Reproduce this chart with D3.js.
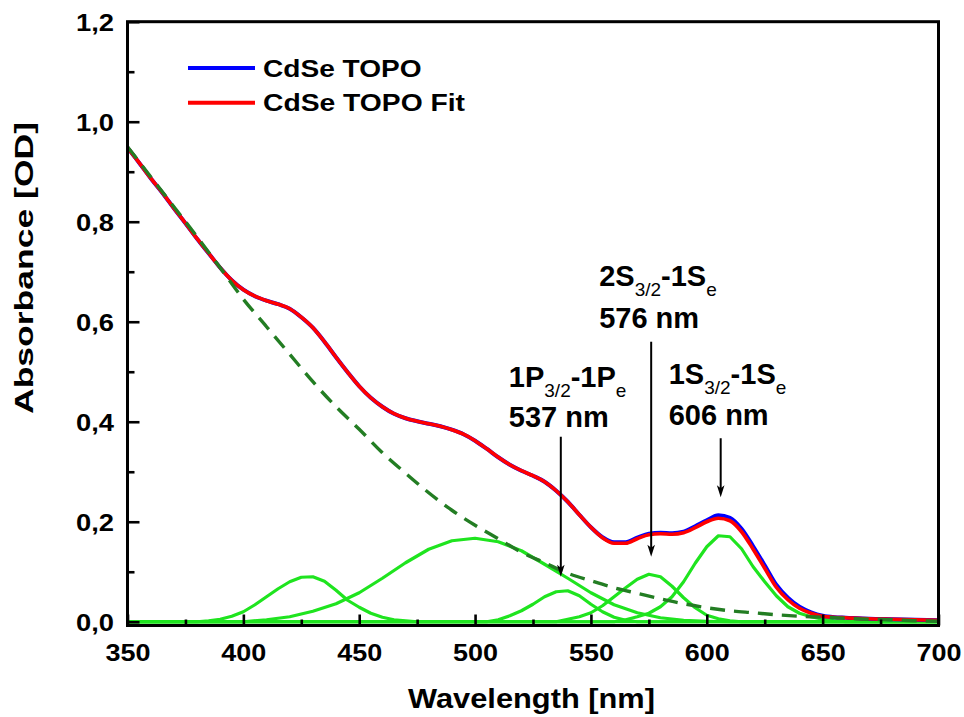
<!DOCTYPE html>
<html>
<head>
<meta charset="utf-8">
<script src="https://cdn.jsdelivr.net/npm/d3@7/dist/d3.min.js"></script>
<style>
  html, body { margin: 0; padding: 0; background: #fff; }
  svg { display: block; }
  text { font-family: "Liberation Sans", Arial, sans-serif; font-weight: bold; fill: #000; }
</style>
</head>
<body>
<svg id="chart" width="964" height="717"></svg>
<script>
// Measured absorption spectrum of CdSe/TOPO nanocrystals (nm, OD)
const wavelengths = [350,355,360,365,370,375,380,385,390,395,400,405,410,415,420,425,430,435,440,445,450,455,460,465,470,475,480,485,490,495,500,505,510,515,520,525,530,535,540,545,550,555,560,565,570,575,580,585,590,595,600,605,610,615,620,625,630,635,640,645,650,655,660,670,680,690,700];
const absData    = [0.948,0.918,0.887,0.858,0.827,0.797,0.766,0.737,0.708,0.683,0.664,0.651,0.642,0.635,0.626,0.609,0.588,0.560,0.529,0.499,0.471,0.448,0.430,0.416,0.407,0.401,0.396,0.391,0.384,0.375,0.362,0.346,0.329,0.314,0.302,0.292,0.280,0.262,0.240,0.214,0.189,0.169,0.159,0.159,0.168,0.176,0.178,0.177,0.180,0.191,0.203,0.213,0.208,0.186,0.151,0.113,0.074,0.048,0.030,0.019,0.012,0.009,0.008,0.006,0.005,0.004,0.003];
const absFit     = [0.948,0.918,0.887,0.858,0.827,0.797,0.766,0.737,0.708,0.683,0.664,0.651,0.642,0.635,0.626,0.609,0.588,0.560,0.529,0.499,0.471,0.448,0.430,0.416,0.407,0.401,0.396,0.391,0.384,0.375,0.362,0.346,0.329,0.314,0.302,0.292,0.280,0.262,0.240,0.214,0.189,0.168,0.157,0.157,0.166,0.174,0.176,0.175,0.178,0.188,0.200,0.207,0.202,0.180,0.145,0.107,0.069,0.044,0.027,0.017,0.011,0.009,0.008,0.006,0.005,0.004,0.003];

// Scattering background (dashed)
const bgWl  = [350,360,370,380,390,400,410,420,430,440,450,460,470,480,490,500,510,520,530,540,550,560,570,580,590,600,610,620,630,640,650,660,670,680,690,700];
const bgAbs = [0.950,0.890,0.830,0.770,0.708,0.645,0.590,0.535,0.480,0.430,0.385,0.338,0.297,0.258,0.223,0.193,0.166,0.139,0.118,0.097,0.082,0.068,0.057,0.046,0.036,0.028,0.022,0.018,0.014,0.011,0.009,0.007,0.005,0.004,0.002,0.001];

// Gaussian fit components
const g1Wl  = [350,380,385,390,395,400,405,410,415,420,425,430,435,440,445,450,455,460,465,470,475,700];
const g1Abs = [0,0,0.002,0.005,0.011,0.020,0.034,0.050,0.066,0.080,0.089,0.090,0.081,0.063,0.043,0.029,0.017,0.009,0.004,0.002,0,0];
const g2Wl  = [350,400,410,420,430,440,450,460,470,480,490,500,510,520,530,540,550,560,570,580,590,600,610,700];
const g2Abs = [0,0,0.004,0.010,0.021,0.036,0.058,0.087,0.118,0.145,0.162,0.167,0.160,0.142,0.115,0.087,0.058,0.034,0.018,0.008,0.003,0.001,0,0];
const g3Wl  = [350,505,510,515,520,525,530,535,540,545,550,555,560,565,570,700];
const g3Abs = [0,0,0.004,0.012,0.022,0.035,0.050,0.060,0.062,0.052,0.035,0.020,0.009,0.003,0,0];
const g4Wl  = [350,535,540,545,550,555,560,565,570,575,580,585,590,595,600,605,610,615,700];
const g4Abs = [0,0,0.005,0.010,0.018,0.032,0.050,0.068,0.085,0.095,0.090,0.071,0.048,0.028,0.013,0.006,0.002,0,0];
const g5Wl  = [350,560,565,570,575,580,585,590,595,600,605,610,615,620,625,630,635,640,645,650,655,660,700];
const g5Abs = [0,0,0.004,0.010,0.017,0.030,0.050,0.080,0.117,0.150,0.172,0.170,0.146,0.110,0.080,0.052,0.030,0.017,0.010,0.005,0.002,0,0];

// Transition annotations
const peakNames = [["1P","3/2","-1P","e"],["2S","3/2","-1S","e"],["1S","3/2","-1S","e"]];
const peakWl    = [537, 576, 606];
const arrowFrom = [0.370, 0.560, 0.367];
const arrowTo   = [0.090, 0.130, 0.249];

// Axis ticks
const xMajor = [350,400,450,500,550,600,650,700];
const xMinor = [375,425,475,525,575,625,675];
const yMajor = [0,0.2,0.4,0.6,0.8,1.0,1.2];
const yMinor = [0.1,0.3,0.5,0.7,0.9,1.1];

const legendNames = ["CdSe TOPO", "CdSe TOPO Fit"];

const svg = d3.select("#chart");
const L = 127.5, R = 938.5, T = 21.7, B = 625.5;

const x = d3.scaleLinear().domain([350, 700]).range([L, R]);
const y = d3.scaleLinear().domain([-0.0075, 1.2]).range([B, T]);

function stretch(sel, w) {
  sel.attr("textLength", w).attr("lengthAdjust", "spacingAndGlyphs");
}

svg.append("defs").append("clipPath").attr("id", "plot")
  .append("rect").attr("x", L).attr("y", T).attr("width", R - L).attr("height", B - T);

const plot = svg.append("g").attr("clip-path", "url(#plot)");

const lineLin = d3.line().x(d => x(d[0])).y(d => y(d[1]));
const lineSmooth = d3.line().x(d => x(d[0])).y(d => y(d[1])).curve(d3.curveMonotoneX);
const zip = (a, b) => a.map((v, i) => [v, b[i]]);

// Fit components
[[g1Wl,g1Abs],[g2Wl,g2Abs],[g3Wl,g3Abs],[g4Wl,g4Abs],[g5Wl,g5Abs]].forEach(([w, a]) => {
  plot.append("path").attr("d", lineLin(zip(w, a)))
    .attr("fill", "none").attr("stroke", "#1fe41f").attr("stroke-width", 3.2)
    .attr("stroke-linejoin", "round");
});

// Measured spectrum and total fit
plot.append("path").attr("d", lineSmooth(zip(wavelengths, absData)))
  .attr("fill", "none").attr("stroke", "#0000ff").attr("stroke-width", 4);
plot.append("path").attr("d", lineSmooth(zip(wavelengths, absFit)))
  .attr("fill", "none").attr("stroke", "#ff0000").attr("stroke-width", 3.6);

// Background
plot.append("path").attr("d", lineSmooth(zip(bgWl, bgAbs)))
  .attr("fill", "none").attr("stroke", "#237d23").attr("stroke-width", 3.4)
  .attr("stroke-dasharray", "15,9");

// Axes (ticks point inward)
const axX = svg.append("g").attr("transform", `translate(0,${B})`);
axX.call(d3.axisBottom(x).tickValues(xMajor).tickSize(-11).tickPadding(18).tickFormat(d3.format("d")));
axX.append("g").call(d3.axisBottom(x).tickValues(xMinor).tickSize(-6).tickFormat(""));
const axY = svg.append("g").attr("transform", `translate(${L},0)`);
axY.call(d3.axisLeft(y).tickValues(yMajor).tickSize(-12).tickPadding(13.5).tickFormat(d => d3.format(".1f")(d).replace(".", ",")));
axY.append("g").call(d3.axisLeft(y).tickValues(yMinor).tickSize(-7).tickFormat(""));
svg.selectAll(".domain").remove();
svg.selectAll(".tick line").attr("stroke", "#000").attr("stroke-width", 2.6);
axX.selectAll(".tick text").attr("font-size", 24).attr("font-weight", "bold")
  .attr("font-family", "Liberation Sans, Arial, sans-serif").call(stretch, 45);
axY.selectAll(".tick text").attr("font-size", 24).attr("font-weight", "bold")
  .attr("font-family", "Liberation Sans, Arial, sans-serif").attr("dy", "0.35em").call(stretch, 38);

// Frame
svg.append("rect").attr("x", L).attr("y", T).attr("width", R - L).attr("height", B - T)
  .attr("fill", "none").attr("stroke", "#000").attr("stroke-width", 3);

// Axis titles
svg.append("text").attr("x", 531.5).attr("y", 708).attr("text-anchor", "middle")
  .attr("font-size", 28).text("Wavelength [nm]").call(stretch, 247);
svg.append("text").attr("transform", "translate(33,268) rotate(-90)").attr("text-anchor", "middle")
  .attr("font-size", 25).text("Absorbance [OD]").call(stretch, 292);

// Legend
const legColors = ["#0000ff", "#ff0000"];
const legW = [158.7, 202];
legendNames.forEach((name, i) => {
  const yy = 68 + i * 34.7;
  svg.append("line").attr("x1", 188).attr("x2", 255).attr("y1", yy).attr("y2", yy)
    .attr("stroke", legColors[i]).attr("stroke-width", 4);
  svg.append("text").attr("x", 263).attr("y", yy + 8.7).attr("font-size", 24)
    .text(name).call(stretch, legW[i]);
});

// Peak annotations with arrows
const firstBase = [386.5, 286, 384];
const secondBase = [426.5, 328, 425];
peakWl.forEach((wl, i) => {
  const ax = x(wl);
  const left = ax - 52;
  const t = svg.append("text").attr("x", left).attr("y", firstBase[i]).attr("font-size", 29);
  const p = peakNames[i];
  t.append("tspan").text(p[0]);
  t.append("tspan").attr("dy", 10).attr("font-size", 19).attr("font-weight", "normal").text(p[1]);
  t.append("tspan").attr("dy", -10).text(p[2]);
  t.append("tspan").attr("dy", 10).attr("font-size", 19).attr("font-weight", "normal").text(p[3]);
  svg.append("text").attr("x", left).attr("y", secondBase[i]).attr("font-size", 29).text(wl + " nm");

  const y0 = y(arrowFrom[i]), y1 = y(arrowTo[i]);
  svg.append("line").attr("x1", ax).attr("x2", ax).attr("y1", y0).attr("y2", y1 - 6)
    .attr("stroke", "#000").attr("stroke-width", 2);
  svg.append("path")
    .attr("d", `M${ax},${y1} L${ax - 3.8},${y1 - 12} L${ax},${y1 - 9} L${ax + 3.8},${y1 - 12} Z`)
    .attr("fill", "#000");
});
</script>
</body>
</html>
